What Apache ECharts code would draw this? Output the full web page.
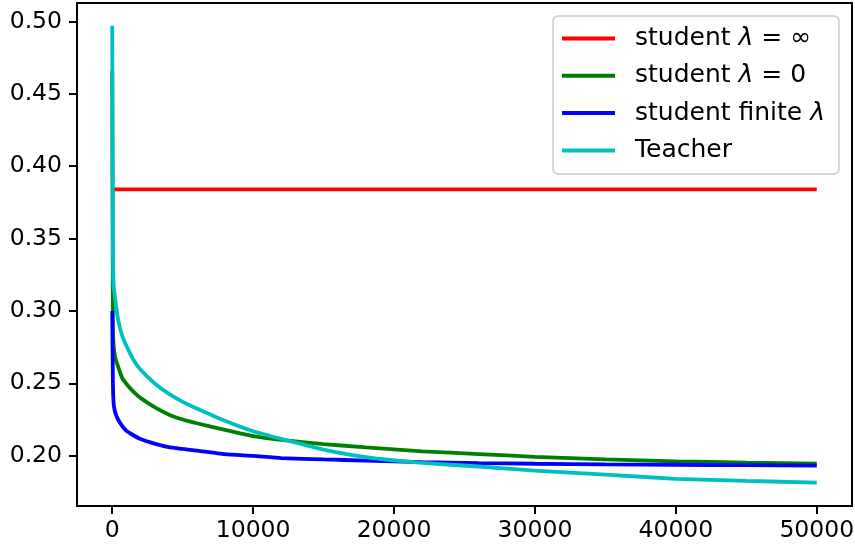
<!DOCTYPE html>
<html>
<head>
<meta charset="utf-8">
<script src="https://cdn.jsdelivr.net/npm/echarts@6/dist/echarts.min.js"></script>
<style>
  html, body { margin: 0; padding: 0; background: #fff; }
  #chart { width: 855px; height: 548px; }
</style>
</head>
<body>
<div id="chart"></div>
<script>
// iterations (x) shared by all curves
const iters = [0, 50, 100, 200, 400, 700, 1000, 1500, 2000, 3000, 4000, 5000, 6000, 8000,
  10000, 12000, 15000, 18000, 22000, 26000, 30000, 35000, 40000, 45000, 50000];

const studentInf = [0.384, 0.384, 0.384, 0.384, 0.384, 0.384, 0.384, 0.384, 0.384, 0.384, 0.384, 0.384, 0.384, 0.384,
  0.384, 0.384, 0.384, 0.384, 0.384, 0.384, 0.384, 0.384, 0.384, 0.384, 0.384];
const studentZero = [0.466, 0.290, 0.276, 0.2685, 0.262, 0.2537, 0.2497, 0.2442, 0.2399, 0.2335, 0.2285, 0.2250, 0.2224, 0.2178,
  0.2135, 0.2109, 0.2080, 0.2057, 0.2030, 0.2011, 0.1992, 0.1974, 0.1961, 0.1952, 0.1945];
const studentFinite = [0.300, 0.250, 0.236, 0.2304, 0.2252, 0.2205, 0.2172, 0.2141, 0.2115, 0.2083, 0.2059, 0.2046, 0.2034, 0.2010,
  0.1998, 0.1983, 0.1974, 0.1966, 0.1955, 0.1948, 0.1944, 0.1940, 0.1937, 0.1934, 0.1931];
const teacher = [0.497, 0.340, 0.318, 0.309, 0.295, 0.283, 0.276, 0.2663, 0.2595, 0.250, 0.2428, 0.2372, 0.2326, 0.2241,
  0.2169, 0.2116, 0.2042, 0.1990, 0.1950, 0.1925, 0.1897, 0.1869, 0.1840, 0.1825, 0.1814];

const xTicks = [0, 10000, 20000, 30000, 40000, 50000];
const yTicks = [0.20, 0.25, 0.30, 0.35, 0.40, 0.45, 0.50];

const names = ['student λ = ∞', 'student λ = 0', 'student finite λ', 'Teacher'];
const legendText = {
  'student λ = ∞': '{a|student }{i|λ}{a| = ∞}',
  'student λ = 0': '{a|student }{i|λ}{a| = 0}',
  'student finite λ': '{a|student finite }{i|λ}',
  'Teacher': '{a|Teacher}'
};
const colors = ['#ff0000', '#008000', '#0000ff', '#00bfbf'];

const pairs = ys => iters.map((x, i) => [x, ys[i]]);

const chart = echarts.init(document.getElementById('chart'));
const font = 'DejaVu Sans';

chart.setOption({
  animation: false,
  color: colors,
  grid: {
    left: 77, top: 3, right: 3, bottom: 42,
    containLabel: false, outerBoundsMode: 'none',
    show: true, borderColor: '#000', borderWidth: 2, backgroundColor: 'transparent'
  },
  legend: {
    orient: 'vertical',
    left: 553, top: 16,
    padding: [10, 14, 11, 9],
    itemWidth: 53, itemHeight: 4, itemGap: 12.3,
    icon: 'rect',
    selectedMode: false,
    backgroundColor: 'rgba(255,255,255,0.8)',
    borderColor: '#cccccc', borderWidth: 1.5, borderRadius: 5,
    data: names,
    formatter: n => legendText[n],
    textStyle: {
      padding: [0, 0, 0, 15],
      rich: {
        a: { fontFamily: font, fontSize: 25, color: '#000' },
        i: { fontFamily: font, fontSize: 25, fontStyle: 'italic', color: '#000' }
      }
    }
  },
  xAxis: {
    type: 'value', min: -2500, max: 52500,
    splitLine: { show: false },
    axisLine: { show: true, onZero: false, lineStyle: { color: '#000', width: 2 } },
    axisTick: { show: true, length: 8, lineStyle: { color: '#000', width: 2 }, customValues: xTicks },
    axisLabel: {
      customValues: xTicks, margin: 13,
      fontFamily: font, fontSize: 23.5, color: '#000',
      formatter: v => String(v)
    }
  },
  yAxis: {
    type: 'value', min: 0.1652, max: 0.5128,
    splitLine: { show: false },
    axisLine: { show: true, onZero: false, lineStyle: { color: '#000', width: 2 } },
    axisTick: { show: true, length: 8, lineStyle: { color: '#000', width: 2 }, customValues: yTicks },
    axisLabel: {
      customValues: yTicks, margin: 15,
      fontFamily: font, fontSize: 23.5, color: '#000',
      formatter: v => v.toFixed(2)
    }
  },
  series: [studentInf, studentZero, studentFinite, teacher].map((ys, i) => ({
    name: names[i],
    type: 'line',
    data: pairs(ys),
    showSymbol: false,
    symbol: 'none',
    smooth: 0.15,
    lineStyle: { width: 3.8, color: colors[i] },
    z: 2 + i
  }))
});
</script>
</body>
</html>
